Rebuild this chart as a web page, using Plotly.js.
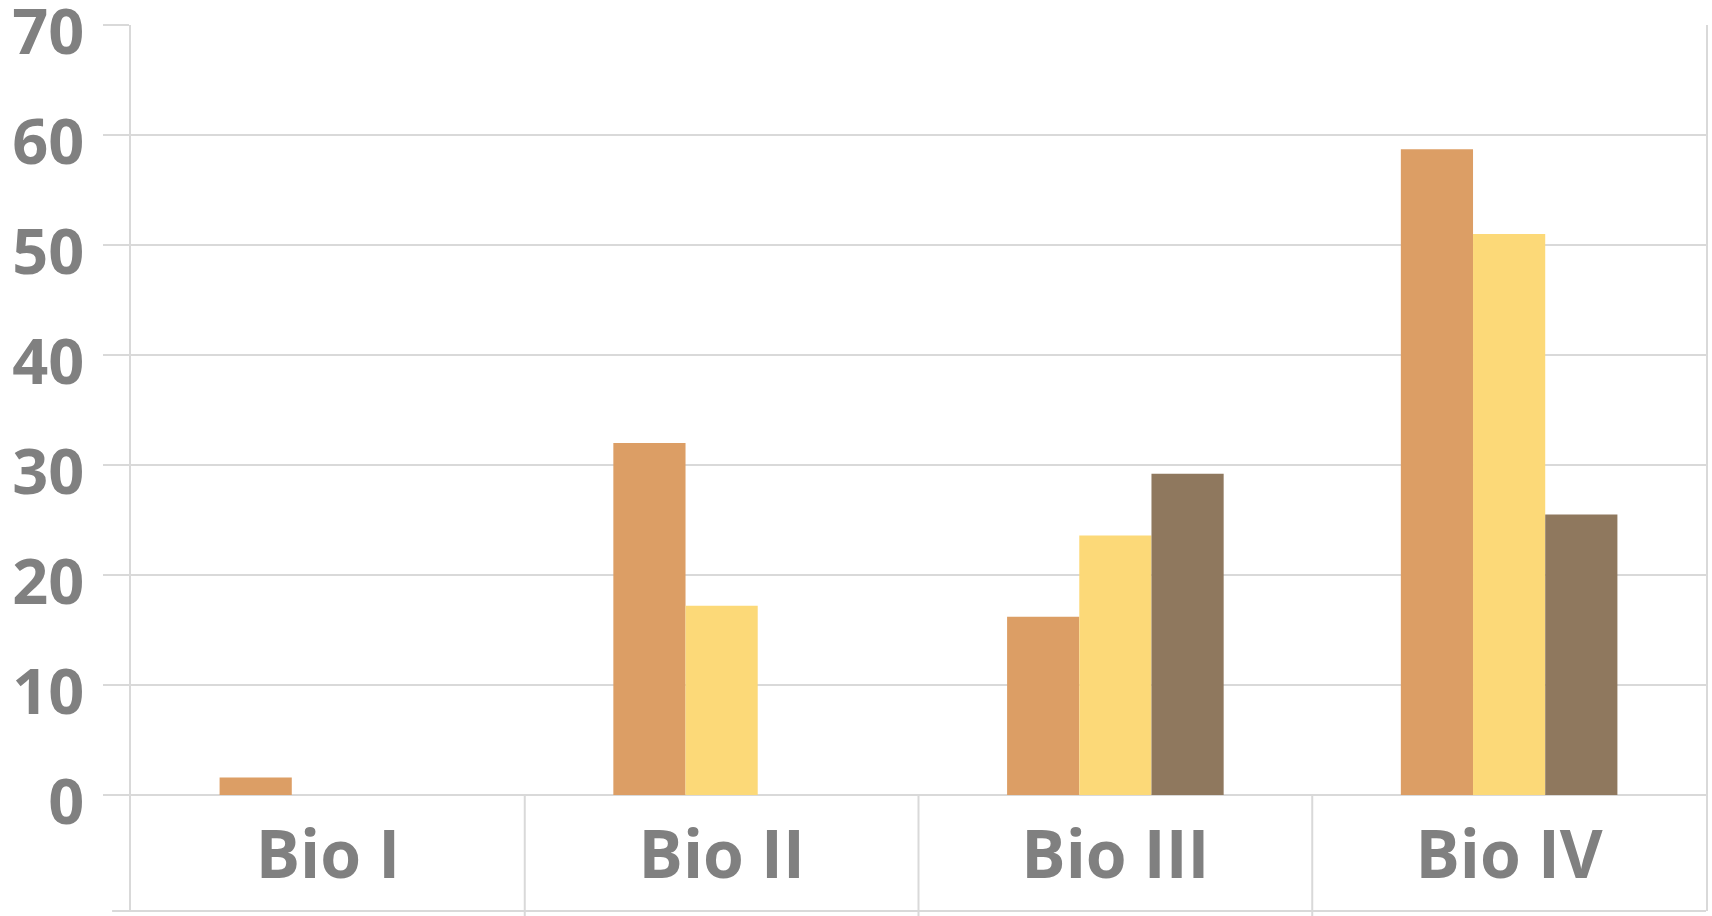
<!DOCTYPE html>
<html>
<head>
<meta charset="utf-8">
<script src="https://cdn.plot.ly/plotly-3.0.1.min.js"></script>
<style>
html,body{margin:0;padding:0;background:#fff;}
#chart{width:1712px;height:916px;}
</style>
</head>
<body>
<div id="chart"></div>
<script>
const categories = ['Bio I', 'Bio II', 'Bio III', 'Bio IV'];
const series1 = [1.6, 32.0, 16.2, 58.7];
const series2 = [null, 17.2, 23.6, 51.0];
const series3 = [null, null, 29.2, 25.5];
const seriesNames = ['Serie 1', 'Serie 2', 'Serie 3'];
const yTicks = [0, 10, 20, 30, 40, 50, 60, 70];

const colors = ['#DC9E65', '#FCD978', '#8F785E'];
const gridColor = '#d9d9d9';
const textColor = '#808080';
const fontFamily = '"Open Sans", "DejaVu Sans Condensed", sans-serif';

const figH = 916, mTop = 25, mBottom = 5;
const plotH = figH - mTop - mBottom;
const unit = 11; // px per unit
const yMin = -(plotH - 70 * unit) / unit;
const zeroFrac = (-yMin) / (70 - yMin);

const traces = [series1, series2, series3].map((vals, i) => ({
  type: 'bar',
  name: seriesNames[i],
  x: categories,
  y: vals,
  marker: {color: colors[i], line: {width: 0}},
  hoverinfo: 'x+y+name'
}));

const shapes = [];
[0.5, 1.5, 2.5].forEach(xv => {
  shapes.push({type: 'line', xref: 'x', yref: 'paper', x0: xv, x1: xv, y0: -0.006, y1: zeroFrac,
    line: {color: gridColor, width: 2}, layer: 'below'});
});
shapes.push({type: 'line', xref: 'paper', yref: 'paper', x0: -0.012, x1: 1, y0: 0, y1: 0,
  line: {color: gridColor, width: 2}, layer: 'below'});

const layout = {
  width: 1712,
  height: 916,
  margin: {l: 131, r: 6, t: mTop, b: mBottom, pad: 0},
  paper_bgcolor: '#ffffff',
  plot_bgcolor: '#ffffff',
  showlegend: false,
  barmode: 'group',
  bargap: 0.45,
  bargroupgap: 0,
  font: {family: fontFamily, color: textColor},
  xaxis: {
    type: 'category',
    anchor: 'free',
    position: zeroFrac,
    showline: false,
    showgrid: false,
    zeroline: false,
    ticks: '',
    ticklabelstandoff: 16,
    tickfont: {family: fontFamily, size: 66, color: textColor, weight: 700},
    fixedrange: true
  },
  yaxis: {
    range: [yMin, 70],
    tickvals: yTicks,
    ticktext: yTicks.map(String),
    showgrid: true,
    gridcolor: gridColor,
    gridwidth: 2,
    zeroline: true,
    zerolinecolor: gridColor,
    zerolinewidth: 2,
    showline: true,
    linecolor: gridColor,
    linewidth: 2,
    mirror: true,
    ticks: 'outside',
    ticklen: 26,
    tickwidth: 2,
    tickcolor: gridColor,
    ticklabelstandoff: 6,
    ticklabelshift: 7,
    ticklabeloverflow: 'allow',
    tickfont: {family: fontFamily, size: 63, color: textColor, weight: 700},
    fixedrange: true
  },
  shapes: shapes
};

Plotly.newPlot('chart', traces, layout, {displayModeBar: false, staticPlot: true});
</script>
</body>
</html>
